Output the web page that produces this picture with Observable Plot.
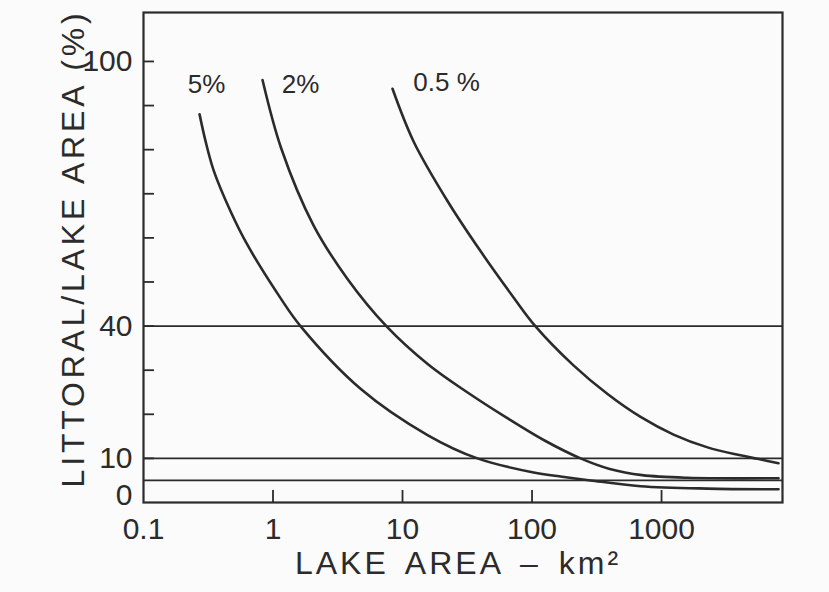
<!DOCTYPE html>
<html><head><meta charset="utf-8">
<script src="https://cdn.jsdelivr.net/npm/d3@7"></script>
<script src="https://cdn.jsdelivr.net/npm/@observablehq/plot@0.6"></script>
<style>html,body{margin:0;padding:0;background:#fbfbfb;}</style>
</head><body><div id="chart"></div>
<script>
// Lake area (km²) and littoral / lake area (%)
const area5 = [0.271, 0.301, 0.349, 0.469, 0.632, 1.14, 1.63, 4.74, 15.6, 37.9, 103, 166, 283, 689, 2265, 8000];
const pct5  = [88.0, 82.0, 75.2, 66.1, 58.5, 46.4, 40.0, 25.8, 15.3, 10.0, 6.8, 5.9, 5.0, 3.7, 3.15, 3.0];
const area2 = [0.83, 1.16, 2.05, 3.76, 7.5, 15.8, 31.6, 63.1, 126, 237, 398, 708, 1585, 8000];
const pct2  = [95.8, 80.2, 62.9, 50.7, 40.0, 31.3, 25.0, 19.3, 14.0, 10.0, 7.6, 6.2, 5.6, 5.5];
const area05 = [8.37, 12.2, 22.3, 40.0, 72.0, 106, 209, 383, 689, 1238, 2265, 4074, 5510, 8000];
const pct05  = [93.8, 81.8, 68.3, 57.0, 46.5, 40.0, 31.1, 24.6, 19.4, 15.4, 12.5, 10.7, 9.9, 8.9];

const seriesNames = ["5%", "2%", "0.5%"];
const curveLabels = ["5%", "2%", "0.5 %"];
const labelArea = [0.307, 1.63, 21.9];
const labelPct = [94.8, 94.8, 95.2];

const refLevels = [40, 10, 5];
const yTicks = [10, 20, 30, 40, 50, 60, 70, 80, 90, 100];
const yTickLabels = [10, 40, 100];
const yZeroLabel = [0];
const xTicks = [1, 10, 100, 1000];
const xTickLabels = [0.1, 1, 10, 100, 1000];
const xTitle = "LAKE AREA – km²";
const yTitle = "LITTORAL/LAKE AREA (%)";

const curves = [
  ...area5.map((a, i) => ({series: seriesNames[0], area: a, pct: pct5[i]})),
  ...area2.map((a, i) => ({series: seriesNames[1], area: a, pct: pct2[i]})),
  ...area05.map((a, i) => ({series: seriesNames[2], area: a, pct: pct05[i]}))
];
const labels = curveLabels.map((t, i) => ({text: t, area: labelArea[i], pct: labelPct[i]}));

const ink = "#2b2b2b";
const font = "'Liberation Sans', Arial, sans-serif";

const chart = Plot.plot({
  width: 829, height: 592,
  marginLeft: 143, marginRight: 47, marginTop: 12, marginBottom: 90,
  x: {type: "log", domain: [0.1, 8590]},
  y: {domain: [0, 111.1]},
  style: {background: "#fbfbfb", fontFamily: font, color: ink},
  marks: [
    Plot.ruleY(refLevels, {stroke: ink, strokeWidth: 1.8}),
    Plot.line(curves, {x: "area", y: "pct", z: "series", stroke: ink, strokeWidth: 2.6, curve: "catmull-rom"}),
    Plot.axisY({ticks: yTicks, tickSize: -11, tickFormat: () => "", label: null, stroke: ink, strokeWidth: 1.8}),
    Plot.axisX({ticks: xTicks, tickSize: -12, tickFormat: () => "", label: null, stroke: ink, strokeWidth: 1.8}),
    Plot.axisY({ticks: yTickLabels, tickSize: 0, tickPadding: 11, fontSize: 30, label: null, fill: ink}),
    Plot.axisY({ticks: yZeroLabel, tickSize: 0, tickPadding: 11, fontSize: 30, label: null, fill: ink, dy: -7}),
    Plot.axisX({ticks: xTickLabels, tickSize: 0, tickPadding: 15, fontSize: 30, label: null, fill: ink, tickFormat: d => String(d)}),
    Plot.text(labels, {x: "area", y: "pct", text: "text", fontSize: 26, fill: ink}),
    Plot.text([yTitle], {frameAnchor: "left", textAnchor: "middle", rotate: -90, dx: -70, dy: -9, fontSize: 32, fill: ink, text: d => d}),
    Plot.text([xTitle], {frameAnchor: "bottom", dx: -5, dy: 71, fontSize: 32, fill: ink, text: d => d}),
    Plot.frame({stroke: ink, strokeWidth: 2.2})
  ]
});
document.getElementById("chart").appendChild(chart);
d3.select(chart).selectAll("text").filter(function() { return this.textContent === yTitle; }).attr("letter-spacing", 3.8);
d3.select(chart).selectAll("text").filter(function() { return this.textContent === xTitle; }).attr("letter-spacing", 3).attr("word-spacing", 6);
</script>
</body></html>
